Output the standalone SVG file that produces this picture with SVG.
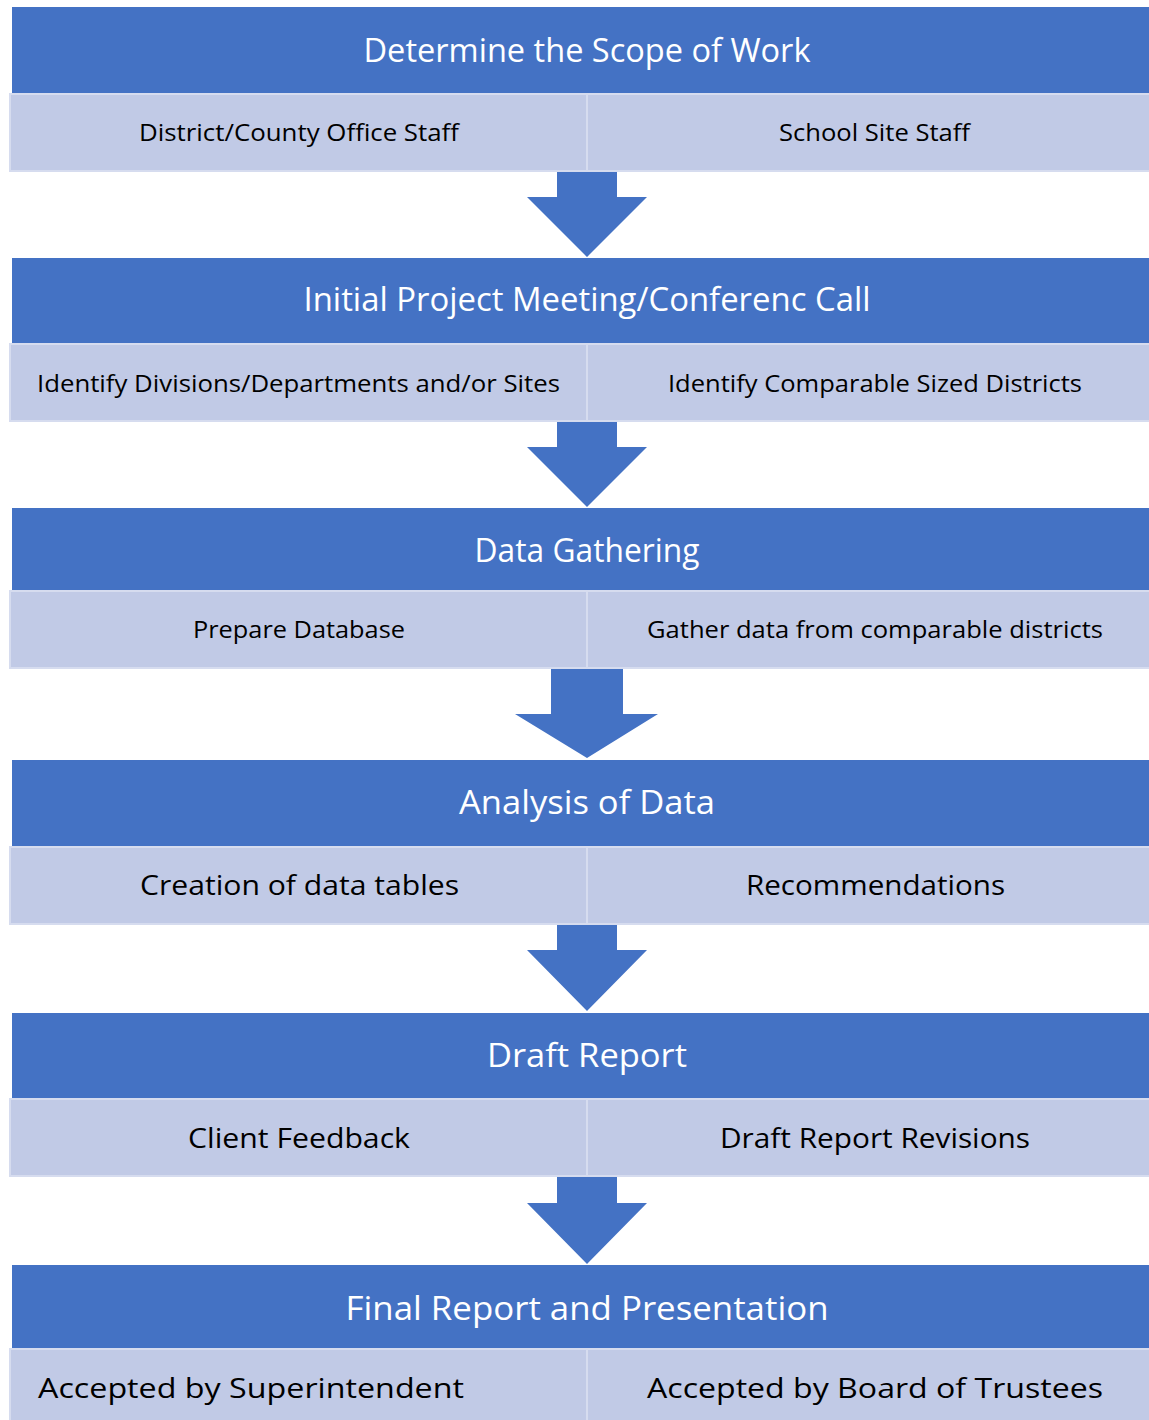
<svg xmlns="http://www.w3.org/2000/svg" width="1149" height="1420" viewBox="0 0 1149 1420">
<style>
.hd{fill:#4472C4}
.sb{fill:#C1CAE6;stroke:#D6DCEF;stroke-width:2}
.dv{stroke:#D6DCEF;stroke-width:2}
.ar{fill:#4472C4}
.ht{font-family:"Open Sans","Noto Sans",sans-serif;font-size:33px;fill:#FFFFFF;text-anchor:middle}
.st{font-family:"Open Sans","Noto Sans",sans-serif;font-size:23.5px;fill:#000000;text-anchor:middle}
.sl{font-family:"Open Sans","Noto Sans",sans-serif;font-size:28px;fill:#000000;text-anchor:middle}
</style>
<rect width="1149" height="1420" fill="#FFFFFF"/>
<g id="connectors">
<polygon class="ar" points="557,171 617,171 617,197 647,197 587,257 527,197 557,197"/>
<polygon class="ar" points="557,421 617,421 617,447 647,447 587,507 527,447 557,447"/>
<polygon class="ar" points="551,669 623,669 623,714 658,714 587,758 515,714 551,714"/>
<polygon class="ar" points="557,923 617,923 617,950 647,950 587,1011 527,950 557,950"/>
<polygon class="ar" points="557,1176 617,1176 617,1203 647,1203 587,1264 527,1203 557,1203"/>
</g>
<g id="step1">
<rect class="hd" x="12" y="7" width="1137" height="86"/>
<text class="ht" x="587" y="62" textLength="447" lengthAdjust="spacingAndGlyphs">Determine the Scope of Work</text>
<rect class="sb" x="10" y="94" width="1140" height="77"/>
<line class="dv" x1="587" y1="94" x2="587" y2="171"/>
<text class="st" x="299" y="141" textLength="320" lengthAdjust="spacingAndGlyphs">District/County Office Staff</text>
<text class="st" x="874.5" y="141" textLength="191" lengthAdjust="spacingAndGlyphs">School Site Staff</text>
</g>
<g id="step2">
<rect class="hd" x="12" y="258" width="1137" height="86"/>
<text class="ht" x="587" y="311" textLength="567" lengthAdjust="spacingAndGlyphs">Initial Project Meeting/Conferenc Call</text>
<rect class="sb" x="10" y="344" width="1140" height="77"/>
<line class="dv" x1="587" y1="344" x2="587" y2="421"/>
<text class="st" x="298.5" y="392" textLength="523" lengthAdjust="spacingAndGlyphs">Identify Divisions/Departments and/or Sites</text>
<text class="st" x="875" y="392" textLength="414" lengthAdjust="spacingAndGlyphs">Identify Comparable Sized Districts</text>
</g>
<g id="step3">
<rect class="hd" x="12" y="508" width="1137" height="83"/>
<text class="ht" x="587" y="562" textLength="225" lengthAdjust="spacingAndGlyphs">Data Gathering</text>
<rect class="sb" x="10" y="591" width="1140" height="77"/>
<line class="dv" x1="587" y1="591" x2="587" y2="668"/>
<text class="st" x="299" y="638" textLength="212" lengthAdjust="spacingAndGlyphs">Prepare Database</text>
<text class="st" x="875" y="638" textLength="456" lengthAdjust="spacingAndGlyphs">Gather data from comparable districts</text>
</g>
<g id="step4">
<rect class="hd" x="12" y="760" width="1137" height="87"/>
<text class="ht" x="587" y="814" textLength="256" lengthAdjust="spacingAndGlyphs">Analysis of Data</text>
<rect class="sb" x="10" y="847" width="1140" height="77"/>
<line class="dv" x1="587" y1="847" x2="587" y2="924"/>
<text class="sl" x="299.5" y="895" textLength="319" lengthAdjust="spacingAndGlyphs">Creation of data tables</text>
<text class="sl" x="875.5" y="895" textLength="259" lengthAdjust="spacingAndGlyphs">Recommendations</text>
</g>
<g id="step5">
<rect class="hd" x="12" y="1013" width="1137" height="86"/>
<text class="ht" x="587" y="1067" textLength="200" lengthAdjust="spacingAndGlyphs">Draft Report</text>
<rect class="sb" x="10" y="1099" width="1140" height="77"/>
<line class="dv" x1="587" y1="1099" x2="587" y2="1176"/>
<text class="sl" x="299" y="1148" textLength="222" lengthAdjust="spacingAndGlyphs">Client Feedback</text>
<text class="sl" x="875" y="1148" textLength="310" lengthAdjust="spacingAndGlyphs">Draft Report Revisions</text>
</g>
<g id="step6">
<rect class="hd" x="12" y="1265" width="1137" height="84"/>
<text class="ht" x="587" y="1320" textLength="483" lengthAdjust="spacingAndGlyphs">Final Report and Presentation</text>
<rect class="sb" x="10" y="1349" width="1140" height="80"/>
<line class="dv" x1="587" y1="1349" x2="587" y2="1420"/>
<text class="sl" x="251" y="1398" textLength="426" lengthAdjust="spacingAndGlyphs">Accepted by Superintendent</text>
<text class="sl" x="875" y="1398" textLength="456" lengthAdjust="spacingAndGlyphs">Accepted by Board of Trustees</text>
</g>
</svg>
